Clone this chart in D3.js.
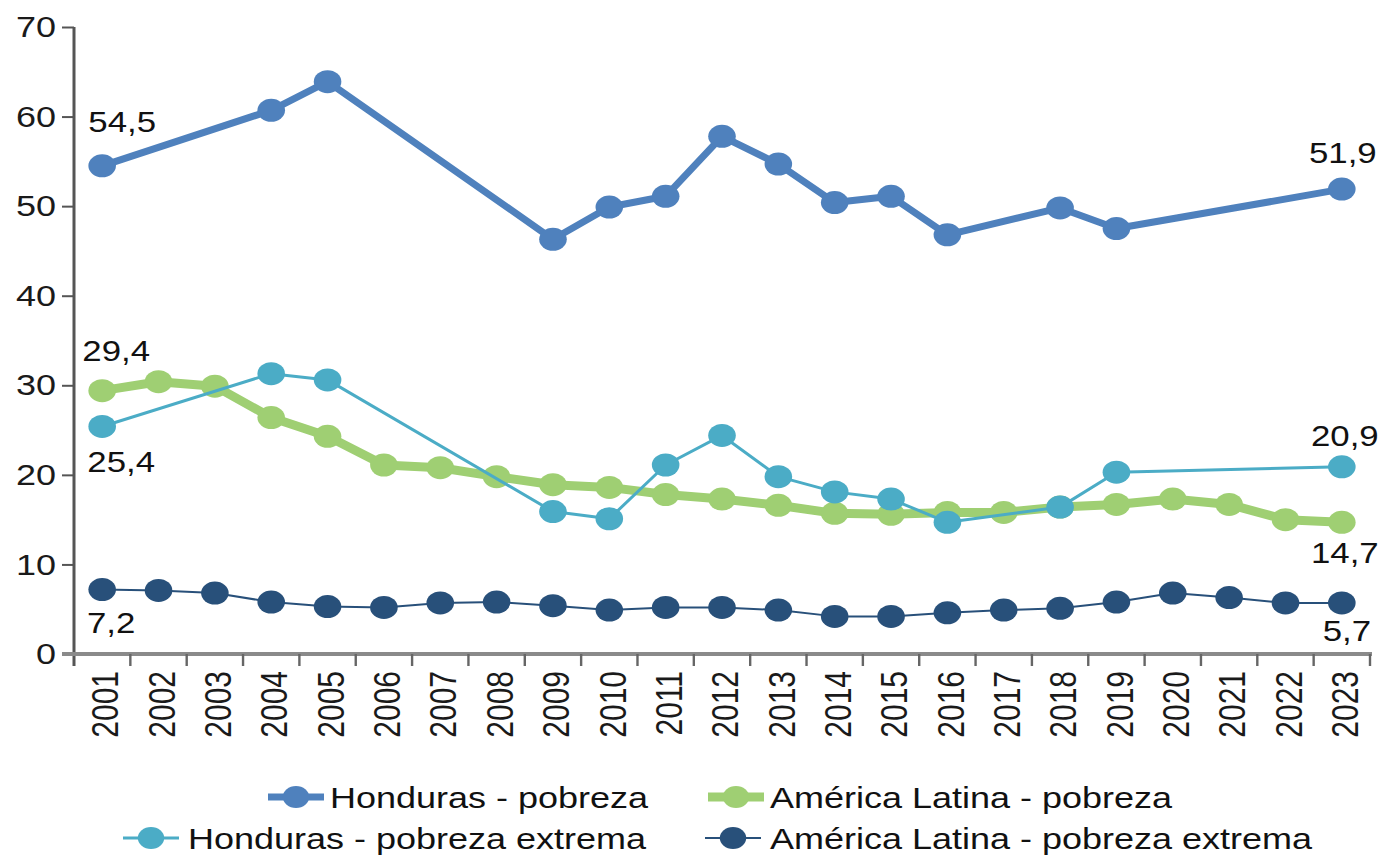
<!DOCTYPE html>
<html>
<head>
<meta charset="utf-8">
<script src="https://cdn.jsdelivr.net/npm/d3@7"></script>
<style>
  html, body { margin: 0; padding: 0; background: #fff; }
  svg { display: block; font-family: "Liberation Sans", Arial, sans-serif; }
</style>
</head>
<body>
<svg id="chart"></svg>
<script>
var years = [2001, 2002, 2003, 2004, 2005, 2006, 2007, 2008, 2009, 2010, 2011, 2012,
             2013, 2014, 2015, 2016, 2017, 2018, 2019, 2020, 2021, 2022, 2023];

// null = no survey that year (line joins the neighbours)
var hondurasPobreza = [54.5, null, null, 60.7, 63.9, null, null, null, 46.3, 49.9, 51.1, 57.8,
                       54.7, 50.4, 51.1, 46.8, null, 49.8, 47.5, null, null, null, 51.9];
var hondurasExtrema = [25.4, null, null, 31.3, 30.6, null, null, null, 15.9, 15.1, 21.1, 24.4,
                       19.8, 18.1, 17.3, 14.7, null, 16.4, 20.3, null, null, null, 20.9];
var alPobreza = [29.4, 30.4, 29.9, 26.4, 24.3, 21.1, 20.8, 19.8, 18.9, 18.6, 17.8, 17.3,
                 16.6, 15.7, 15.6, 15.8, 15.8, 16.4, 16.7, 17.3, 16.7, 15.0, 14.7];
var alExtrema = [7.2, 7.1, 6.8, 5.8, 5.3, 5.2, 5.7, 5.8, 5.4, 4.9, 5.2, 5.2,
                 4.9, 4.2, 4.2, 4.6, 4.9, 5.1, 5.8, 6.8, 6.3, 5.7, 5.7];

var yTicks = [0, 10, 20, 30, 40, 50, 60, 70];

var seriesNames = ["Honduras - pobreza", "América Latina - pobreza",
                   "Honduras - pobreza extrema", "América Latina - pobreza extrema"];

var width = 1378;
var height = 856;
var stretch = 1.2;              // the picture is drawn a little wider than tall
var vw = width / stretch;

var svg = d3.select("#chart")
  .attr("width", width)
  .attr("height", height)
  .attr("viewBox", "0 0 " + vw + " " + height)
  .attr("preserveAspectRatio", "none");

var x = d3.scaleBand()
  .domain(years)
  .range([74 / stretch, 1370 / stretch])
  .padding(0);

var y = d3.scaleLinear()
  .domain([0, 70])
  .range([654, 27]);

function cx(year) { return x(year) + x.bandwidth() / 2; }

var series = [
  { name: seriesNames[0], values: hondurasPobreza, color: "#4f81bd", width: 7, r: 11.5 },
  { name: seriesNames[1], values: alPobreza, color: "#9fcf73", width: 9, r: 11.5 },
  { name: seriesNames[2], values: hondurasExtrema, color: "#4bacc6", width: 3, r: 11.5 },
  { name: seriesNames[3], values: alExtrema, color: "#28507a", width: 2, r: 11.5 }
];

// y axis
var yAxis = svg.append("g")
  .attr("transform", "translate(" + (74 / stretch) + ",0)")
  .call(d3.axisLeft(y).tickValues(yTicks).tickSize(10).tickPadding(5));
yAxis.select(".domain").remove();
yAxis.selectAll(".tick line").attr("stroke", "#555").attr("stroke-width", 2);
yAxis.selectAll(".tick text")
  .attr("font-size", 30)
  .attr("fill", "#1a1a1a")
  .style("font-family", "Liberation Sans, Arial, sans-serif");
svg.append("line")
  .attr("x1", 74 / stretch).attr("x2", 74 / stretch)
  .attr("y1", y(70)).attr("y2", 666)
  .attr("stroke", "#555").attr("stroke-width", 2.5);

// x axis
var xAxis = svg.append("g")
  .attr("transform", "translate(0," + y(0) + ")")
  .call(d3.axisBottom(x).tickSize(0));
xAxis.select(".domain").remove();
xAxis.selectAll(".tick text")
  .attr("transform", "rotate(-90)")
  .attr("text-anchor", "end")
  .attr("x", -17)
  .attr("y", 0)
  .attr("dy", "0.45em")
  .attr("font-size", 30)
  .attr("fill", "#1a1a1a")
  .style("font-family", "Liberation Sans, Arial, sans-serif");

svg.append("line")
  .attr("x1", 62 / stretch).attr("x2", 1372 / stretch)
  .attr("y1", y(0)).attr("y2", y(0))
  .attr("stroke", "#8a8a8a").attr("stroke-width", 4);

svg.append("g").selectAll("line")
  .data(years.slice(1).concat(["end"]))
  .join("line")
  .attr("x1", function(d) { return d === "end" ? x.range()[1] : x(d); })
  .attr("x2", function(d) { return d === "end" ? x.range()[1] : x(d); })
  .attr("y1", y(0))
  .attr("y2", 666)
  .attr("stroke", "#666")
  .attr("stroke-width", 2);

// lines and markers
var line = d3.line()
  .x(function(d) { return cx(d.year); })
  .y(function(d) { return y(d.v); });

var drawOrder = [1, 0, 2, 3];
drawOrder.forEach(function(i) {
  var s = series[i];
  var pts = years.map(function(yr, k) { return { year: yr, v: s.values[k] }; })
    .filter(function(d) { return d.v != null; });
  var g = svg.append("g");
  g.append("path")
    .datum(pts)
    .attr("d", line)
    .attr("fill", "none")
    .attr("stroke", s.color)
    .attr("stroke-width", s.width)
    .attr("stroke-linejoin", "round")
    .attr("vector-effect", "non-scaling-stroke");
  g.selectAll("circle")
    .data(pts)
    .join("circle")
    .attr("cx", function(d) { return cx(d.year); })
    .attr("cy", function(d) { return y(d.v); })
    .attr("r", s.r)
    .attr("fill", s.color);
});

// end labels (series index, year index, dx, dy)
var labelSpots = [
  [0, 0, 20, -34], [1, 0, 14, -30], [2, 0, 19, 46], [3, 0, 9, 44],
  [0, 22, 1, -26], [2, 22, 3, -21], [1, 22, 3, 41], [3, 22, 5, 38]
];
svg.append("g").selectAll("text")
  .data(labelSpots)
  .join("text")
  .attr("x", function(d) { return cx(years[d[1]]) + d[2] / stretch; })
  .attr("y", function(d) { return y(series[d[0]].values[d[1]]) + d[3]; })
  .attr("text-anchor", "middle")
  .attr("font-size", 29)
  .attr("fill", "#111")
  .text(function(d) { return d3.format(".1f")(series[d[0]].values[d[1]]).replace(".", ","); });

// legend
var legendSpots = [
  { s: 0, x1: 268, row: 797, tx: 330 },
  { s: 1, x1: 708, row: 797, tx: 770 },
  { s: 2, x1: 123, row: 838, tx: 188 },
  { s: 3, x1: 705, row: 838, tx: 770 }
];
var lg = svg.append("g").selectAll("g")
  .data(legendSpots)
  .join("g");
lg.append("line")
  .attr("x1", function(d) { return d.x1 / stretch; })
  .attr("x2", function(d) { return (d.x1 + 56) / stretch; })
  .attr("y1", function(d) { return d.row; })
  .attr("y2", function(d) { return d.row; })
  .attr("stroke", function(d) { return series[d.s].color; })
  .attr("stroke-width", function(d) { return series[d.s].width; })
  .attr("vector-effect", "non-scaling-stroke");
lg.append("circle")
  .attr("cx", function(d) { return (d.x1 + 28) / stretch; })
  .attr("cy", function(d) { return d.row; })
  .attr("r", 11)
  .attr("fill", function(d) { return series[d.s].color; });
lg.append("text")
  .attr("x", function(d) { return d.tx / stretch; })
  .attr("y", function(d) { return d.row + 11; })
  .attr("font-size", 30)
  .attr("fill", "#111")
  .text(function(d) { return series[d.s].name; });
</script>
</body>
</html>
